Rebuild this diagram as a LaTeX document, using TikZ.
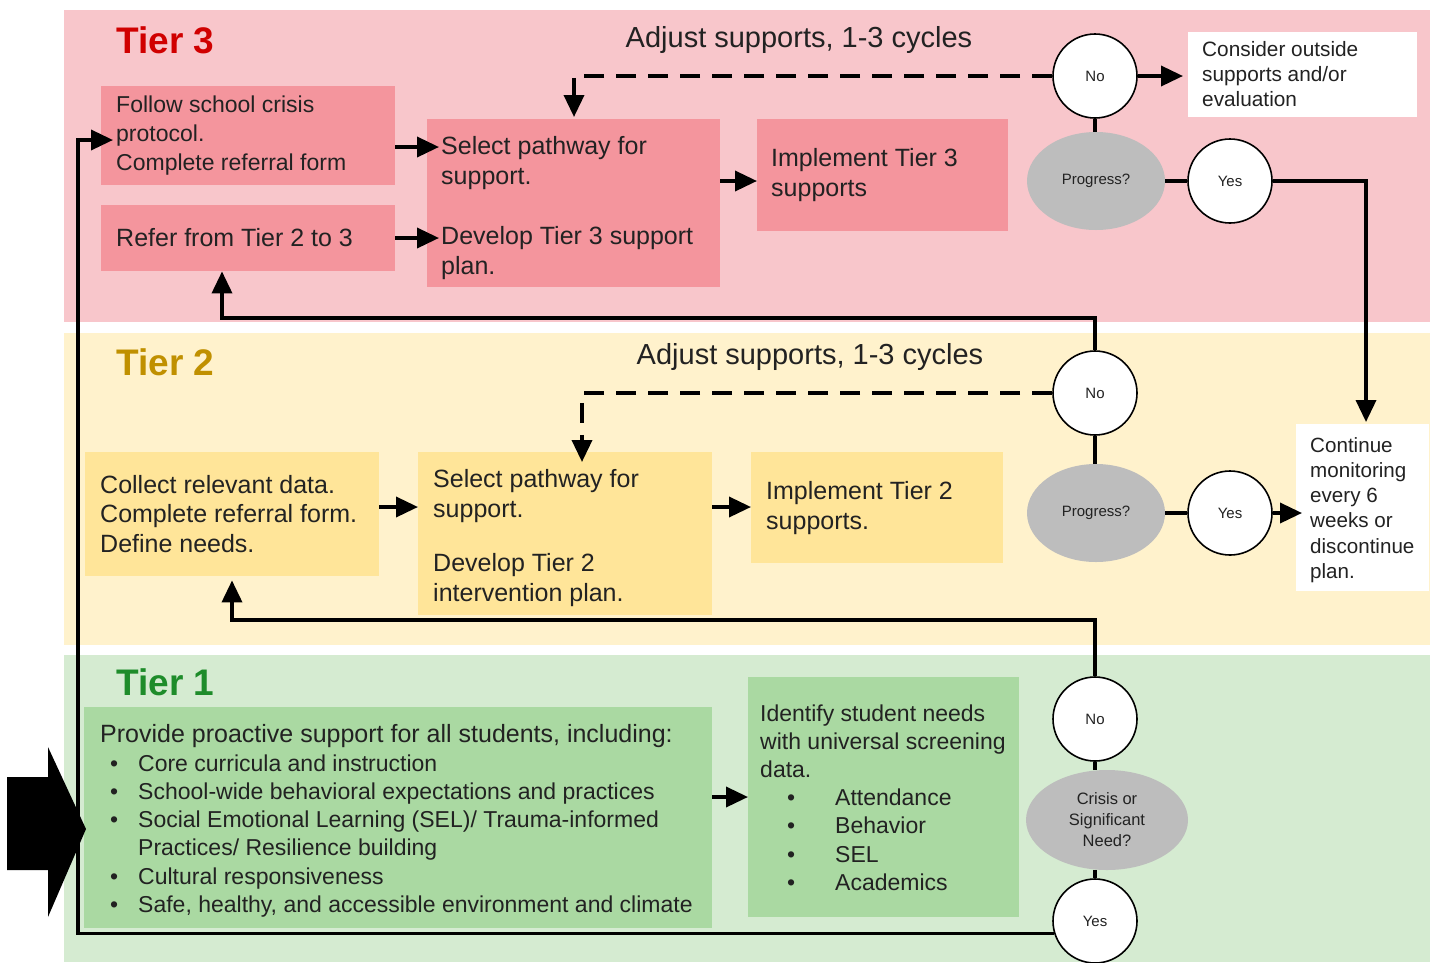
\documentclass[tikz,border=0pt]{standalone}
\usepackage{fontspec}
\setmainfont{Liberation Sans}
\usetikzlibrary{shapes.geometric,arrows.meta}
\definecolor{t3band}{HTML}{F8C6CB}
\definecolor{t3box}{HTML}{F4959D}
\definecolor{t2band}{HTML}{FFF2CC}
\definecolor{t2box}{HTML}{FFE599}
\definecolor{t1band}{HTML}{D5EBD1}
\definecolor{t1box}{HTML}{AAD9A2}
\definecolor{grayell}{HTML}{BDBDBD}
\definecolor{t3title}{HTML}{D00000}
\definecolor{t2title}{HTML}{C09000}
\definecolor{t1title}{HTML}{1E8C2A}
\definecolor{ink}{HTML}{222222}
\newcommand\bodyfnt{\fontsize{25}{29.8}\selectfont}
\newcommand\smallbody{\fontsize{23}{29}\selectfont}
\begin{document}
\begin{tikzpicture}[x=1pt,y=-1pt,
  box/.style={draw=none, anchor=north west, inner sep=0pt},
  txt/.style={anchor=west, inner sep=0pt, align=left, text=ink, font=\bodyfnt},
  circ/.style={ellipse, draw=black, line width=1.6pt, fill=white, minimum width=84pt, minimum height=84pt, inner sep=0pt, text=ink, font=\fontsize{15}{18}\selectfont},
  gell/.style={ellipse, fill=grayell, draw=none, inner sep=0pt, text=ink, align=center},
  title/.style={anchor=west, inner sep=0pt, font=\bfseries\fontsize{37}{42}\selectfont},
  adjust/.style={inner sep=0pt, text=ink, font=\fontsize{29}{33}\selectfont},
  conn/.style={line width=3.6pt},
  arr/.style={line width=3.6pt, -{Triangle[length=22pt,width=20pt]}},
  dasharr/.style={line width=3.6pt, dash pattern=on 20pt off 12pt, -{Triangle[length=22pt,width=20pt]}}
]
\useasboundingbox (0,0) rectangle (1439,962);
\fill[white] (0,0) rectangle (1439,962);
% bands
\fill[t3band] (64,10) rectangle (1430,322);
\fill[t2band] (64,333) rectangle (1430,645);
\fill[t1band] (64,655) rectangle (1430,962);

% titles
\node[title, text=t3title] (tier3) at (116,40) {Tier 3};
\node[title, text=t2title] (tier2) at (116,362) {Tier 2};
\node[title, text=t1title] (tier1) at (116,682) {Tier 1};
\node[adjust] (adj3) at (799,40) {Adjust supports, 1-3 cycles};
\node[adjust] (adj2) at (810,357) {Adjust supports, 1-3 cycles};

% Tier 3 boxes
\node[box, fill=t3box, minimum width=294pt, minimum height=99pt] (follow) at (101,86) {};
\node[box, fill=t3box, minimum width=294pt, minimum height=66pt] (refer) at (101,205) {};
\node[box, fill=t3box, minimum width=293pt, minimum height=168pt] (select3) at (427,119) {};
\node[box, fill=t3box, minimum width=251pt, minimum height=112pt] (impl3) at (757,119) {};
\node[box, fill=white, minimum width=229pt, minimum height=85pt] (consider) at (1188,32) {};
\node[txt, font=\smallbody] (followt) at (116,136) {Follow school crisis\\protocol.\\Complete referral form};
\node[txt] (refert) at (116,238) {Refer from Tier 2 to 3};
\node[txt] (select3t) at (441,208) {Select pathway for\\support.\\[31pt]Develop Tier 3 support\\plan.};
\node[txt] (impl3t) at (771,175) {Implement Tier 3\\supports};
\node[txt, font=\fontsize{20.8}{25}\selectfont] (considert) at (1202,74) {Consider outside\\supports and/or\\evaluation};

% Tier 2 boxes
\node[box, fill=t2box, minimum width=294pt, minimum height=124pt] (collect) at (85,452) {};
\node[box, fill=t2box, minimum width=294pt, minimum height=163pt] (select2) at (418,452) {};
\node[box, fill=t2box, minimum width=252pt, minimum height=111pt] (impl2) at (751,452) {};
\node[box, fill=white, minimum width=133pt, minimum height=167pt] (cont) at (1296,424) {};
\node[txt] (collectt) at (100,514) {Collect relevant data.\\Complete referral form.\\Define needs.};
\node[txt] (select2t) at (433,538) {Select pathway for\\support.\\[25pt]Develop Tier 2\\intervention plan.};
\node[txt] (impl2t) at (766,508) {Implement Tier 2\\supports.};
\node[txt, font=\fontsize{20.6}{25.3}\selectfont] (contt) at (1310,510) {Continue\\monitoring\\every 6\\weeks or\\discontinue\\plan.};

% Tier 1 boxes
\node[box, fill=t1box, minimum width=628pt, minimum height=221pt] (provide) at (84,707) {};
\node[box, fill=t1box, minimum width=271pt, minimum height=240pt] (identify) at (748,677) {};
\node[txt, font=\fontsize{23}{28.3}\selectfont] (providet) at (100,821) {{\fontsize{25}{28.3}\selectfont Provide proactive support for all students, including:}\\
\hspace*{10pt}\makebox[28pt][l]{\textbullet}Core curricula and instruction\\
\hspace*{10pt}\makebox[28pt][l]{\textbullet}School-wide behavioral expectations and practices\\
\hspace*{10pt}\makebox[28pt][l]{\textbullet}Social Emotional Learning (SEL)/ Trauma-informed\\
\hspace*{38pt}Practices/ Resilience building\\
\hspace*{10pt}\makebox[28pt][l]{\textbullet}Cultural responsiveness\\
\hspace*{10pt}\makebox[28pt][l]{\textbullet}Safe, healthy, and accessible environment and climate};
\node[txt, font=\fontsize{23}{28.2}\selectfont] (identifyt) at (760,797.5) {Identify student needs\\with universal screening\\data.\\
\hspace*{27pt}\makebox[48pt][l]{\textbullet}Attendance\\
\hspace*{27pt}\makebox[48pt][l]{\textbullet}Behavior\\
\hspace*{27pt}\makebox[48pt][l]{\textbullet}SEL\\
\hspace*{27pt}\makebox[48pt][l]{\textbullet}Academics};

% decision nodes
\node[circ] (no3) at (1095,76) {No};
\node[gell, minimum width=138pt, minimum height=98pt, font=\fontsize{15}{18}\selectfont] (prog3) at (1096,181) {Progress?};
\node[circ] (yes3) at (1230,181) {Yes};
\node[circ] (no2) at (1095,393) {No};
\node[gell, minimum width=138pt, minimum height=98pt, font=\fontsize{15}{18}\selectfont] (prog2) at (1096,513) {Progress?};
\node[circ] (yes2) at (1230,513) {Yes};
\node[circ] (no1) at (1095,719) {No};
\node[gell, minimum width=162pt, minimum height=100pt, font=\fontsize{16.5}{21}\selectfont] (crisis) at (1107,820) {Crisis or\\Significant\\Need?};
\node[circ] (yes1) at (1095,921) {Yes};

% connectors Tier 3
\draw[conn] (no3.south) -- (no3.south |- prog3.north);
\draw[conn] (prog3) -- (yes3);
\draw[arr, shorten >=5pt] (no3.east) -- (consider.west |- no3.east);
\draw[dasharr, shorten >=2pt] (no3.west) -| (select3.north -| 574,0);
\draw[arr, shorten >=-12pt] (follow.east |- 0,147) -- (select3.west |- 0,147);
\draw[arr, shorten >=-12pt] (refer.east |- 0,238) -- (select3.west |- 0,238);
\draw[arr] (select3.east |- 0,181) -- (impl3.west |- 0,181);
\draw[arr, shorten >=2pt] (yes3.east) -| (cont.north -| 1366,0);

% connectors Tier 2
\draw[conn] (no2.south) -- (no2.south |- prog2.north);
\draw[conn] (prog2) -- (yes2);
\draw[dasharr, shorten >=-10pt] (no2.west) -| (select2.north -| 582,0);
\draw[arr] (no2.north) |- (222,318) -- (refer.south -| 222,0);
\draw[arr] (collect.east |- 0,507) -- (select2.west |- 0,507);
\draw[arr] (select2.east |- 0,507) -- (impl2.west |- 0,507);
\draw[arr, shorten >=-6pt] (yes2.east) -- (cont.west |- yes2.east);

% connectors Tier 1
\draw[conn] (no1.south) -- (crisis.north -| no1.south);
\draw[conn] (crisis.south -| yes1.north) -- (yes1.north);
\draw[arr, shorten >=4pt] (no1.north) |- (232,620) -- (collect.south -| 232,0);
\draw[arr] (provide.east |- 0,797) -- (identify.west |- 0,797);
\draw[arr, shorten >=-12pt] (yes1.197) -| (78,140) -- (follow.west |- 0,140);

% big entry arrow
\fill[black] (7,777) -- (48,777) -- (48,747) -- (86,829) -- (48,917) -- (48,870) -- (7,870) -- cycle;
\end{tikzpicture}
\end{document}
